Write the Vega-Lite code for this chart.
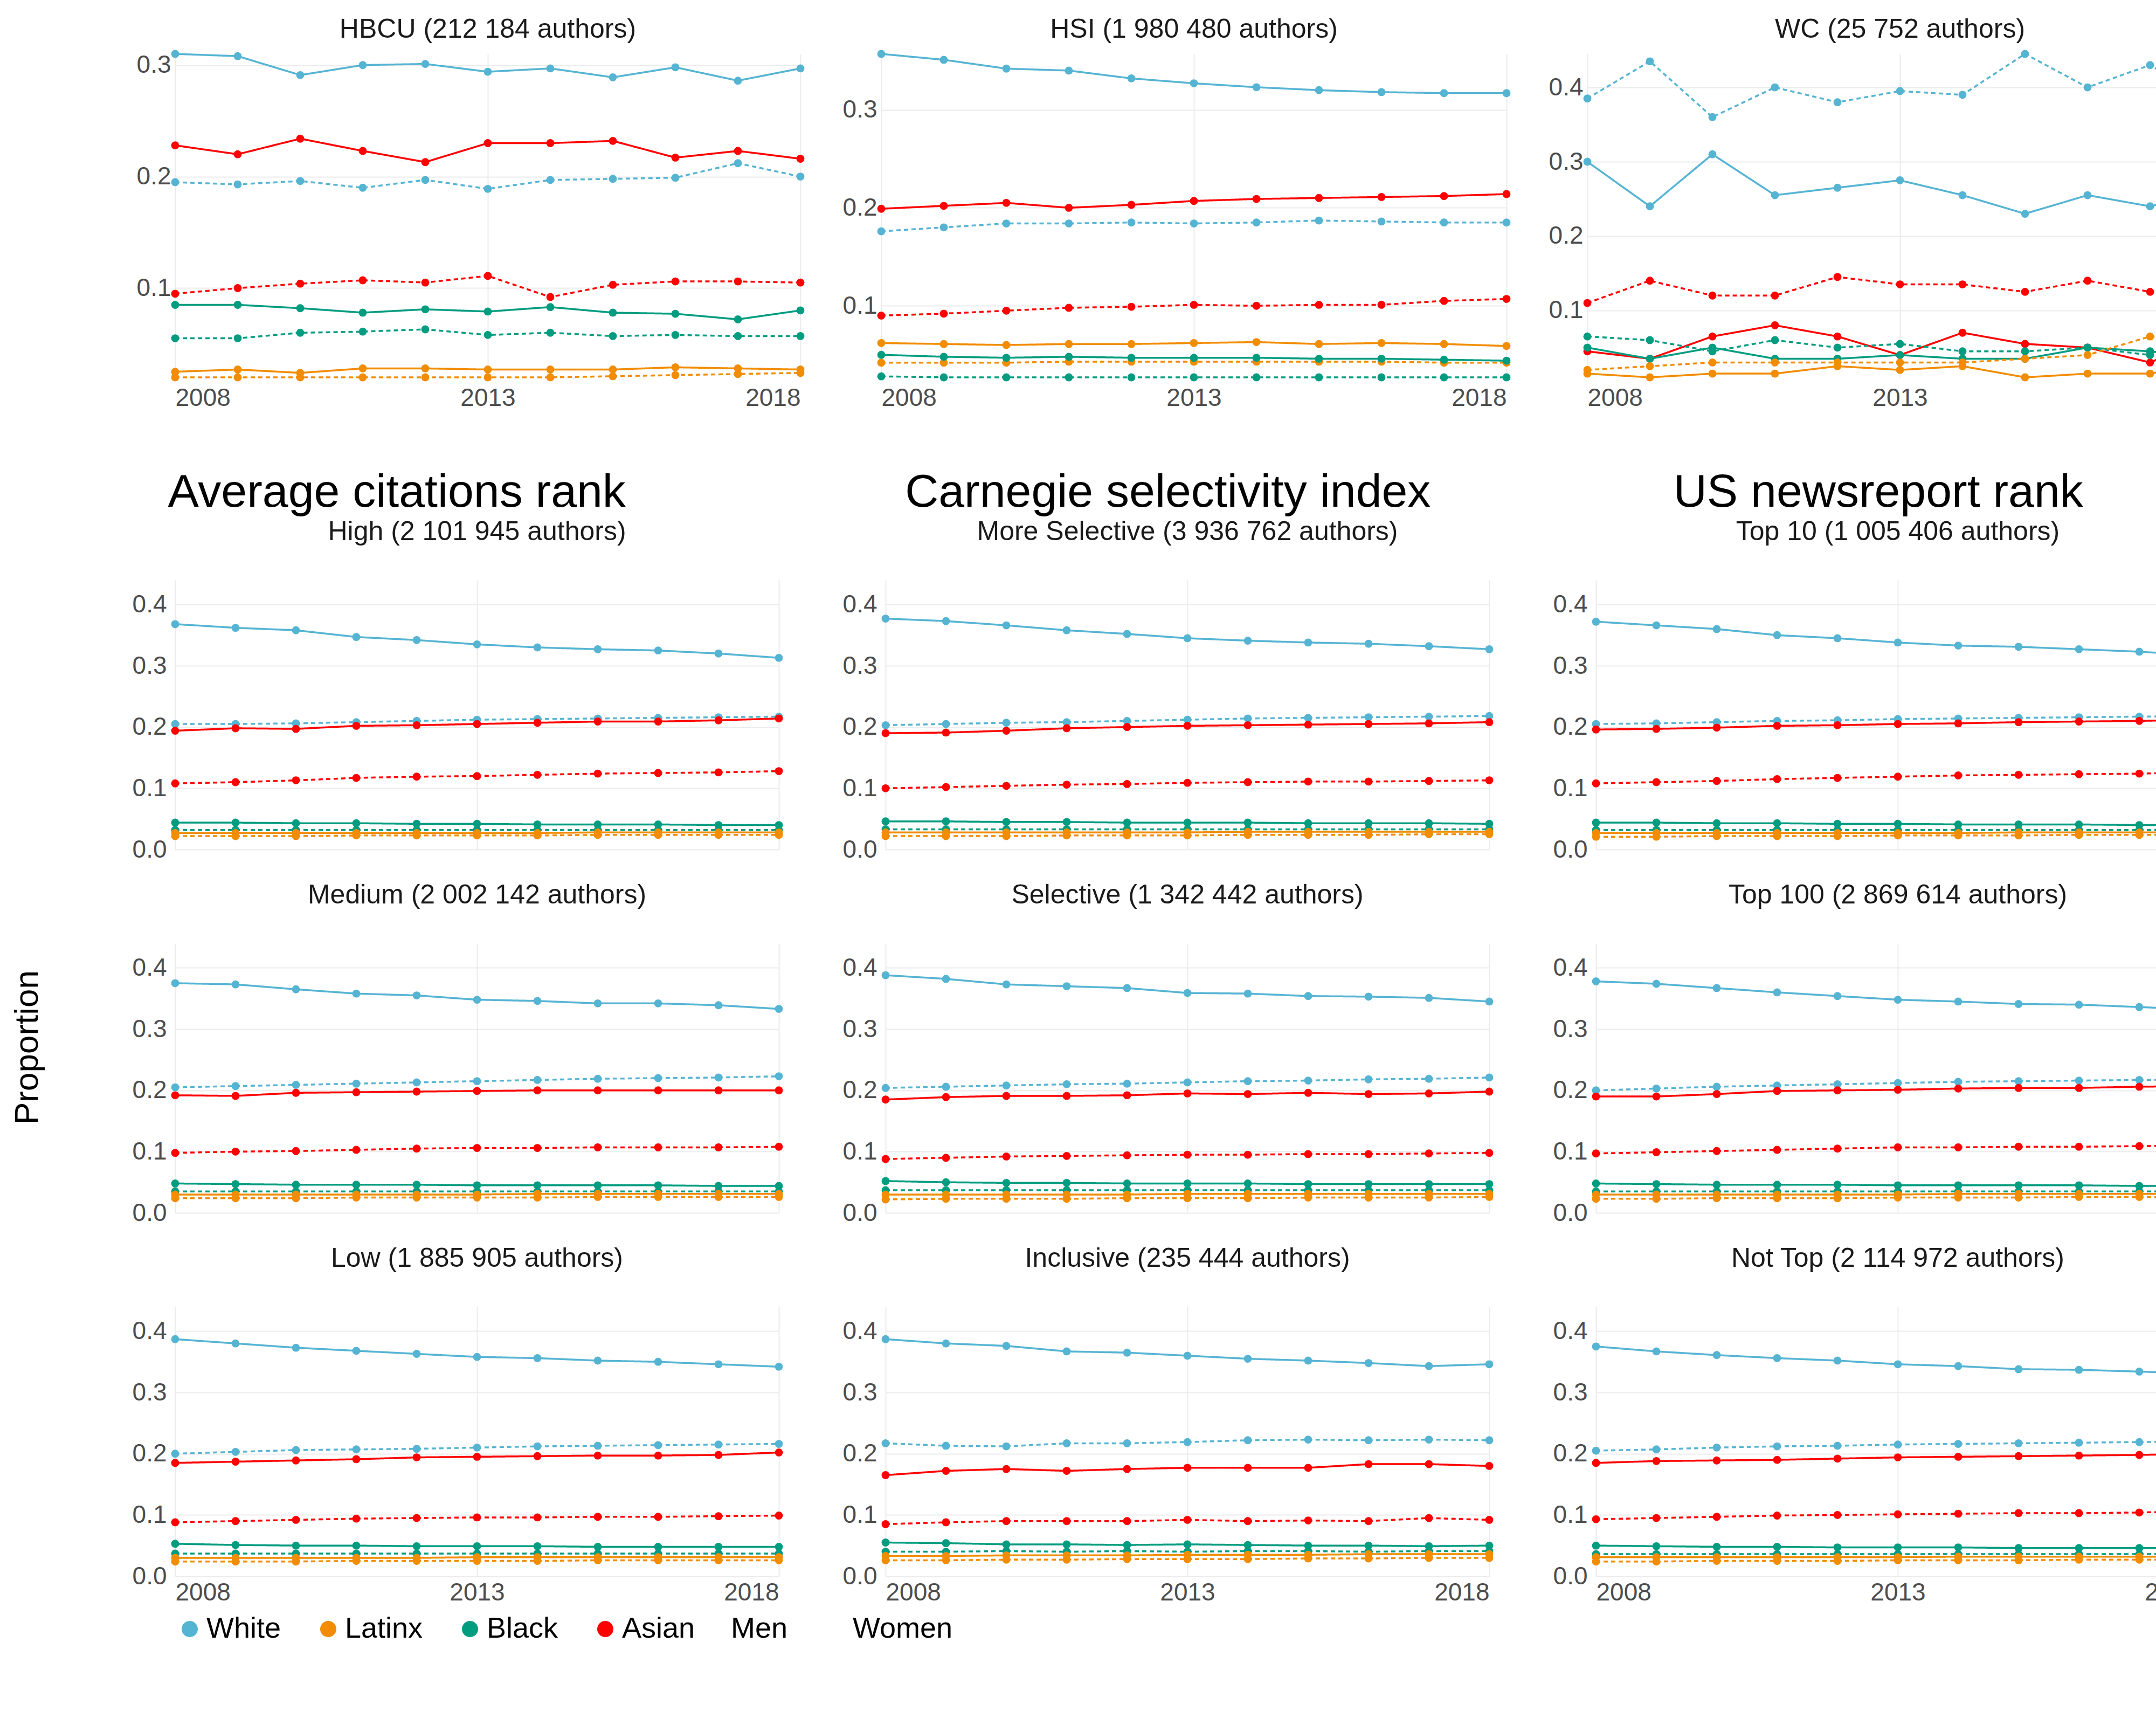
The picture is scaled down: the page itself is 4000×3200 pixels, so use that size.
{
  "$schema": "https://vega.github.io/schema/vega-lite/v6.json",
  "background": "white",
  "padding": {"left": 20, "top": 30, "right": 30, "bottom": 20},
  "config": {
    "font": "Liberation Sans",
    "view": {"stroke": null},
    "axis": {"labelFontSize": 46, "labelColor": "#4d4d4d", "gridColor": "#ebebeb", "gridWidth": 2, "domain": false, "ticks": false, "titleFontSize": 60, "titleFontWeight": "normal", "labelPadding": 8},
    "header": {"labelFontSize": 50, "labelColor": "#1a1a1a", "titleFontSize": 62, "titleFontWeight": "normal", "titleColor": "#000000"},
    "legend": {"orient": "bottom", "direction": "horizontal", "labelFontSize": 54, "symbolSize": 900, "symbolStrokeWidth": 5, "columnPadding": 60, "labelLimit": 400},
    "title": {"fontSize": 86, "fontWeight": "normal", "anchor": "middle"},
    "concat": {"spacing": 110}
  },
  "data": {"values": [
    {"s":"top","p":"HBCU (212 184 authors)","r":"White","g":"Men","v":[0.31,0.308,0.291,0.3,0.301,0.294,0.297,0.289,0.298,0.286,0.297]},
    {"s":"top","p":"HBCU (212 184 authors)","r":"White","g":"Women","v":[0.195,0.193,0.196,0.19,0.197,0.189,0.197,0.198,0.199,0.212,0.2]},
    {"s":"top","p":"HBCU (212 184 authors)","r":"Asian","g":"Men","v":[0.228,0.22,0.234,0.223,0.213,0.23,0.23,0.232,0.217,0.223,0.216]},
    {"s":"top","p":"HBCU (212 184 authors)","r":"Asian","g":"Women","v":[0.095,0.1,0.104,0.107,0.105,0.111,0.092,0.103,0.106,0.106,0.105]},
    {"s":"top","p":"HBCU (212 184 authors)","r":"Black","g":"Men","v":[0.085,0.085,0.082,0.078,0.081,0.079,0.083,0.078,0.077,0.072,0.08]},
    {"s":"top","p":"HBCU (212 184 authors)","r":"Black","g":"Women","v":[0.055,0.055,0.06,0.061,0.063,0.058,0.06,0.057,0.058,0.057,0.057]},
    {"s":"top","p":"HBCU (212 184 authors)","r":"Latinx","g":"Men","v":[0.025,0.027,0.024,0.028,0.028,0.027,0.027,0.027,0.029,0.028,0.027]},
    {"s":"top","p":"HBCU (212 184 authors)","r":"Latinx","g":"Women","v":[0.02,0.02,0.02,0.02,0.02,0.02,0.02,0.021,0.022,0.023,0.024]},
    {"s":"top","p":"HSI (1 980 480 authors)","r":"White","g":"Men","v":[0.357,0.351,0.342,0.34,0.332,0.327,0.323,0.32,0.318,0.317,0.317]},
    {"s":"top","p":"HSI (1 980 480 authors)","r":"White","g":"Women","v":[0.176,0.18,0.184,0.184,0.185,0.184,0.185,0.187,0.186,0.185,0.185]},
    {"s":"top","p":"HSI (1 980 480 authors)","r":"Asian","g":"Men","v":[0.199,0.202,0.205,0.2,0.203,0.207,0.209,0.21,0.211,0.212,0.214]},
    {"s":"top","p":"HSI (1 980 480 authors)","r":"Asian","g":"Women","v":[0.09,0.092,0.095,0.098,0.099,0.101,0.1,0.101,0.101,0.105,0.107]},
    {"s":"top","p":"HSI (1 980 480 authors)","r":"Latinx","g":"Men","v":[0.062,0.061,0.06,0.061,0.061,0.062,0.063,0.061,0.062,0.061,0.059]},
    {"s":"top","p":"HSI (1 980 480 authors)","r":"Latinx","g":"Women","v":[0.042,0.042,0.042,0.043,0.043,0.043,0.043,0.043,0.043,0.042,0.042]},
    {"s":"top","p":"HSI (1 980 480 authors)","r":"Black","g":"Men","v":[0.05,0.048,0.047,0.048,0.047,0.047,0.047,0.046,0.046,0.045,0.044]},
    {"s":"top","p":"HSI (1 980 480 authors)","r":"Black","g":"Women","v":[0.028,0.027,0.027,0.027,0.027,0.027,0.027,0.027,0.027,0.027,0.027]},
    {"s":"top","p":"WC (25 752 authors)","r":"White","g":"Women","v":[0.385,0.435,0.36,0.4,0.38,0.395,0.39,0.445,0.4,0.43,0.38]},
    {"s":"top","p":"WC (25 752 authors)","r":"White","g":"Men","v":[0.3,0.24,0.31,0.255,0.265,0.275,0.255,0.23,0.255,0.24,0.26]},
    {"s":"top","p":"WC (25 752 authors)","r":"Asian","g":"Women","v":[0.11,0.14,0.12,0.12,0.145,0.135,0.135,0.125,0.14,0.125,0.125]},
    {"s":"top","p":"WC (25 752 authors)","r":"Asian","g":"Men","v":[0.045,0.035,0.065,0.08,0.065,0.04,0.07,0.055,0.05,0.03,0.065]},
    {"s":"top","p":"WC (25 752 authors)","r":"Black","g":"Women","v":[0.065,0.06,0.045,0.06,0.05,0.055,0.045,0.045,0.05,0.04,0.045]},
    {"s":"top","p":"WC (25 752 authors)","r":"Black","g":"Men","v":[0.05,0.035,0.05,0.035,0.035,0.04,0.035,0.035,0.05,0.045,0.035]},
    {"s":"top","p":"WC (25 752 authors)","r":"Latinx","g":"Men","v":[0.015,0.01,0.015,0.015,0.025,0.02,0.025,0.01,0.015,0.015,0.03]},
    {"s":"top","p":"WC (25 752 authors)","r":"Latinx","g":"Women","v":[0.02,0.025,0.03,0.03,0.03,0.03,0.03,0.035,0.04,0.065,0.05]},

    {"s":"cit","p":"High (2 101 945 authors)","r":"White","g":"Men","v":[0.368,0.362,0.358,0.347,0.342,0.335,0.33,0.327,0.325,0.32,0.313]},
    {"s":"cit","p":"High (2 101 945 authors)","r":"White","g":"Women","v":[0.205,0.205,0.206,0.208,0.21,0.212,0.213,0.214,0.215,0.216,0.217]},
    {"s":"cit","p":"High (2 101 945 authors)","r":"Asian","g":"Men","v":[0.194,0.198,0.197,0.202,0.203,0.205,0.207,0.209,0.209,0.211,0.214]},
    {"s":"cit","p":"High (2 101 945 authors)","r":"Asian","g":"Women","v":[0.108,0.11,0.113,0.117,0.119,0.12,0.122,0.124,0.125,0.126,0.128]},
    {"s":"cit","p":"High (2 101 945 authors)","r":"Black","g":"Men","v":[0.044,0.044,0.043,0.043,0.042,0.042,0.041,0.041,0.041,0.04,0.04]},
    {"s":"cit","p":"High (2 101 945 authors)","r":"Black","g":"Women","v":[0.032,0.032,0.032,0.032,0.032,0.032,0.032,0.032,0.032,0.032,0.032]},
    {"s":"cit","p":"High (2 101 945 authors)","r":"Latinx","g":"Men","v":[0.027,0.027,0.027,0.027,0.027,0.027,0.027,0.028,0.028,0.028,0.028]},
    {"s":"cit","p":"High (2 101 945 authors)","r":"Latinx","g":"Women","v":[0.022,0.022,0.022,0.023,0.023,0.023,0.023,0.024,0.024,0.024,0.024]},
    {"s":"cit","p":"Medium (2 002 142 authors)","r":"White","g":"Men","v":[0.375,0.373,0.365,0.358,0.355,0.348,0.346,0.342,0.342,0.339,0.333]},
    {"s":"cit","p":"Medium (2 002 142 authors)","r":"White","g":"Women","v":[0.205,0.207,0.209,0.211,0.213,0.215,0.217,0.219,0.22,0.221,0.223]},
    {"s":"cit","p":"Medium (2 002 142 authors)","r":"Asian","g":"Men","v":[0.192,0.191,0.196,0.197,0.198,0.199,0.2,0.2,0.2,0.2,0.2]},
    {"s":"cit","p":"Medium (2 002 142 authors)","r":"Asian","g":"Women","v":[0.098,0.1,0.101,0.103,0.105,0.106,0.106,0.107,0.107,0.107,0.108]},
    {"s":"cit","p":"Medium (2 002 142 authors)","r":"Black","g":"Men","v":[0.048,0.047,0.046,0.046,0.046,0.045,0.045,0.045,0.045,0.044,0.044]},
    {"s":"cit","p":"Medium (2 002 142 authors)","r":"Black","g":"Women","v":[0.035,0.035,0.035,0.035,0.035,0.035,0.035,0.035,0.035,0.035,0.035]},
    {"s":"cit","p":"Medium (2 002 142 authors)","r":"Latinx","g":"Men","v":[0.03,0.03,0.03,0.03,0.03,0.03,0.031,0.031,0.031,0.031,0.031]},
    {"s":"cit","p":"Medium (2 002 142 authors)","r":"Latinx","g":"Women","v":[0.024,0.024,0.024,0.025,0.025,0.025,0.025,0.026,0.026,0.026,0.026]},
    {"s":"cit","p":"Low (1 885 905 authors)","r":"White","g":"Men","v":[0.387,0.38,0.373,0.368,0.363,0.358,0.356,0.352,0.35,0.346,0.342]},
    {"s":"cit","p":"Low (1 885 905 authors)","r":"White","g":"Women","v":[0.2,0.203,0.206,0.207,0.208,0.21,0.212,0.213,0.214,0.215,0.216]},
    {"s":"cit","p":"Low (1 885 905 authors)","r":"Asian","g":"Men","v":[0.185,0.187,0.189,0.191,0.194,0.195,0.196,0.197,0.197,0.198,0.202]},
    {"s":"cit","p":"Low (1 885 905 authors)","r":"Asian","g":"Women","v":[0.088,0.09,0.092,0.094,0.095,0.096,0.096,0.097,0.097,0.098,0.099]},
    {"s":"cit","p":"Low (1 885 905 authors)","r":"Black","g":"Men","v":[0.053,0.051,0.05,0.05,0.049,0.049,0.049,0.048,0.048,0.048,0.048]},
    {"s":"cit","p":"Low (1 885 905 authors)","r":"Black","g":"Women","v":[0.037,0.037,0.037,0.037,0.037,0.037,0.037,0.037,0.037,0.037,0.037]},
    {"s":"cit","p":"Low (1 885 905 authors)","r":"Latinx","g":"Men","v":[0.03,0.03,0.03,0.03,0.03,0.031,0.031,0.031,0.031,0.031,0.031]},
    {"s":"cit","p":"Low (1 885 905 authors)","r":"Latinx","g":"Women","v":[0.024,0.024,0.024,0.025,0.025,0.025,0.025,0.026,0.026,0.026,0.026]},

    {"s":"car","p":"More Selective (3 936 762 authors)","r":"White","g":"Men","v":[0.377,0.373,0.366,0.358,0.352,0.345,0.341,0.338,0.336,0.332,0.327]},
    {"s":"car","p":"More Selective (3 936 762 authors)","r":"White","g":"Women","v":[0.203,0.205,0.207,0.208,0.21,0.212,0.214,0.215,0.216,0.217,0.218]},
    {"s":"car","p":"More Selective (3 936 762 authors)","r":"Asian","g":"Men","v":[0.19,0.191,0.194,0.198,0.2,0.202,0.203,0.204,0.205,0.206,0.208]},
    {"s":"car","p":"More Selective (3 936 762 authors)","r":"Asian","g":"Women","v":[0.1,0.102,0.104,0.106,0.107,0.109,0.11,0.111,0.111,0.112,0.113]},
    {"s":"car","p":"More Selective (3 936 762 authors)","r":"Black","g":"Men","v":[0.046,0.046,0.045,0.045,0.044,0.044,0.044,0.043,0.043,0.043,0.042]},
    {"s":"car","p":"More Selective (3 936 762 authors)","r":"Black","g":"Women","v":[0.033,0.033,0.033,0.033,0.033,0.033,0.033,0.033,0.033,0.033,0.033]},
    {"s":"car","p":"More Selective (3 936 762 authors)","r":"Latinx","g":"Men","v":[0.028,0.028,0.028,0.028,0.028,0.028,0.029,0.029,0.029,0.029,0.029]},
    {"s":"car","p":"More Selective (3 936 762 authors)","r":"Latinx","g":"Women","v":[0.022,0.022,0.022,0.023,0.023,0.023,0.024,0.024,0.024,0.025,0.025]},
    {"s":"car","p":"Selective (1 342 442 authors)","r":"White","g":"Men","v":[0.388,0.382,0.373,0.37,0.367,0.359,0.358,0.354,0.353,0.351,0.345]},
    {"s":"car","p":"Selective (1 342 442 authors)","r":"White","g":"Women","v":[0.204,0.206,0.208,0.21,0.211,0.213,0.215,0.216,0.218,0.219,0.221]},
    {"s":"car","p":"Selective (1 342 442 authors)","r":"Asian","g":"Men","v":[0.185,0.189,0.191,0.191,0.192,0.195,0.194,0.196,0.194,0.195,0.198]},
    {"s":"car","p":"Selective (1 342 442 authors)","r":"Asian","g":"Women","v":[0.088,0.09,0.092,0.093,0.094,0.095,0.095,0.096,0.096,0.097,0.098]},
    {"s":"car","p":"Selective (1 342 442 authors)","r":"Black","g":"Men","v":[0.052,0.05,0.049,0.049,0.048,0.048,0.048,0.047,0.047,0.047,0.047]},
    {"s":"car","p":"Selective (1 342 442 authors)","r":"Black","g":"Women","v":[0.037,0.037,0.037,0.037,0.037,0.037,0.037,0.037,0.037,0.037,0.037]},
    {"s":"car","p":"Selective (1 342 442 authors)","r":"Latinx","g":"Men","v":[0.03,0.03,0.03,0.03,0.03,0.031,0.031,0.031,0.031,0.031,0.031]},
    {"s":"car","p":"Selective (1 342 442 authors)","r":"Latinx","g":"Women","v":[0.022,0.023,0.023,0.023,0.024,0.024,0.024,0.025,0.025,0.025,0.026]},
    {"s":"car","p":"Inclusive (235 444 authors)","r":"White","g":"Men","v":[0.387,0.38,0.376,0.367,0.365,0.36,0.355,0.352,0.348,0.343,0.346]},
    {"s":"car","p":"Inclusive (235 444 authors)","r":"White","g":"Women","v":[0.217,0.213,0.212,0.217,0.217,0.219,0.222,0.223,0.222,0.223,0.222]},
    {"s":"car","p":"Inclusive (235 444 authors)","r":"Asian","g":"Men","v":[0.165,0.172,0.175,0.172,0.175,0.177,0.177,0.177,0.183,0.183,0.18]},
    {"s":"car","p":"Inclusive (235 444 authors)","r":"Asian","g":"Women","v":[0.085,0.088,0.09,0.09,0.09,0.092,0.09,0.091,0.09,0.095,0.092]},
    {"s":"car","p":"Inclusive (235 444 authors)","r":"Black","g":"Men","v":[0.055,0.054,0.052,0.052,0.051,0.052,0.051,0.05,0.05,0.049,0.05]},
    {"s":"car","p":"Inclusive (235 444 authors)","r":"Black","g":"Women","v":[0.04,0.04,0.041,0.04,0.041,0.04,0.041,0.041,0.04,0.041,0.041]},
    {"s":"car","p":"Inclusive (235 444 authors)","r":"Latinx","g":"Men","v":[0.033,0.033,0.034,0.034,0.034,0.035,0.035,0.035,0.036,0.036,0.036]},
    {"s":"car","p":"Inclusive (235 444 authors)","r":"Latinx","g":"Women","v":[0.026,0.026,0.027,0.027,0.028,0.028,0.028,0.029,0.029,0.03,0.03]},

    {"s":"us","p":"Top 10 (1 005 406 authors)","r":"White","g":"Men","v":[0.372,0.366,0.36,0.35,0.345,0.338,0.333,0.331,0.327,0.323,0.317]},
    {"s":"us","p":"Top 10 (1 005 406 authors)","r":"White","g":"Women","v":[0.205,0.206,0.208,0.21,0.211,0.213,0.214,0.215,0.216,0.217,0.218]},
    {"s":"us","p":"Top 10 (1 005 406 authors)","r":"Asian","g":"Men","v":[0.196,0.197,0.199,0.202,0.203,0.205,0.206,0.208,0.209,0.21,0.212]},
    {"s":"us","p":"Top 10 (1 005 406 authors)","r":"Asian","g":"Women","v":[0.108,0.11,0.112,0.115,0.117,0.119,0.121,0.122,0.123,0.124,0.126]},
    {"s":"us","p":"Top 10 (1 005 406 authors)","r":"Black","g":"Men","v":[0.044,0.044,0.043,0.043,0.042,0.042,0.041,0.041,0.041,0.04,0.04]},
    {"s":"us","p":"Top 10 (1 005 406 authors)","r":"Black","g":"Women","v":[0.032,0.032,0.032,0.032,0.032,0.032,0.032,0.032,0.032,0.032,0.032]},
    {"s":"us","p":"Top 10 (1 005 406 authors)","r":"Latinx","g":"Men","v":[0.027,0.027,0.027,0.027,0.027,0.027,0.027,0.028,0.028,0.028,0.028]},
    {"s":"us","p":"Top 10 (1 005 406 authors)","r":"Latinx","g":"Women","v":[0.021,0.021,0.022,0.022,0.022,0.023,0.023,0.023,0.024,0.024,0.024]},
    {"s":"us","p":"Top 100 (2 869 614 authors)","r":"White","g":"Men","v":[0.378,0.374,0.367,0.36,0.354,0.348,0.345,0.341,0.34,0.336,0.332]},
    {"s":"us","p":"Top 100 (2 869 614 authors)","r":"White","g":"Women","v":[0.2,0.203,0.206,0.208,0.21,0.212,0.214,0.215,0.216,0.217,0.218]},
    {"s":"us","p":"Top 100 (2 869 614 authors)","r":"Asian","g":"Men","v":[0.19,0.19,0.194,0.199,0.2,0.201,0.203,0.204,0.204,0.206,0.207]},
    {"s":"us","p":"Top 100 (2 869 614 authors)","r":"Asian","g":"Women","v":[0.097,0.099,0.101,0.103,0.105,0.107,0.107,0.108,0.108,0.109,0.11]},
    {"s":"us","p":"Top 100 (2 869 614 authors)","r":"Black","g":"Men","v":[0.048,0.047,0.046,0.046,0.046,0.045,0.045,0.045,0.045,0.044,0.044]},
    {"s":"us","p":"Top 100 (2 869 614 authors)","r":"Black","g":"Women","v":[0.035,0.035,0.035,0.035,0.035,0.035,0.035,0.035,0.035,0.035,0.035]},
    {"s":"us","p":"Top 100 (2 869 614 authors)","r":"Latinx","g":"Men","v":[0.03,0.03,0.03,0.03,0.03,0.03,0.031,0.031,0.031,0.031,0.031]},
    {"s":"us","p":"Top 100 (2 869 614 authors)","r":"Latinx","g":"Women","v":[0.023,0.023,0.024,0.024,0.024,0.025,0.025,0.025,0.026,0.026,0.026]},
    {"s":"us","p":"Not Top (2 114 972 authors)","r":"White","g":"Men","v":[0.375,0.367,0.361,0.356,0.352,0.346,0.343,0.338,0.337,0.334,0.331]},
    {"s":"us","p":"Not Top (2 114 972 authors)","r":"White","g":"Women","v":[0.205,0.207,0.21,0.212,0.213,0.215,0.216,0.217,0.218,0.219,0.22]},
    {"s":"us","p":"Not Top (2 114 972 authors)","r":"Asian","g":"Men","v":[0.185,0.188,0.189,0.19,0.192,0.194,0.195,0.196,0.197,0.198,0.2]},
    {"s":"us","p":"Not Top (2 114 972 authors)","r":"Asian","g":"Women","v":[0.093,0.095,0.097,0.099,0.1,0.101,0.102,0.103,0.103,0.104,0.106]},
    {"s":"us","p":"Not Top (2 114 972 authors)","r":"Black","g":"Men","v":[0.05,0.049,0.048,0.048,0.047,0.047,0.047,0.046,0.046,0.046,0.046]},
    {"s":"us","p":"Not Top (2 114 972 authors)","r":"Black","g":"Women","v":[0.036,0.036,0.036,0.036,0.036,0.036,0.036,0.036,0.036,0.036,0.036]},
    {"s":"us","p":"Not Top (2 114 972 authors)","r":"Latinx","g":"Men","v":[0.031,0.031,0.031,0.031,0.031,0.031,0.032,0.032,0.032,0.032,0.032]},
    {"s":"us","p":"Not Top (2 114 972 authors)","r":"Latinx","g":"Women","v":[0.024,0.024,0.025,0.025,0.025,0.026,0.026,0.026,0.027,0.027,0.027]}
  ]},
  "transform": [
    {"calculate": "[2008,2009,2010,2011,2012,2013,2014,2015,2016,2017,2018]", "as": "yr"},
    {"flatten": ["yr", "v"]}
  ],
  "vconcat": [
    {
      "transform": [{"filter": "datum.s == 'top'"}],
      "facet": {"column": {"field": "p", "sort": ["HBCU (212 184 authors)", "HSI (1 980 480 authors)", "WC (25 752 authors)"], "title": null, "header": {"labelPadding": 12}}},
      "spacing": 70,
      "resolve": {"scale": {"y": "independent"}},
      "spec": {
        "width": 1160, "height": 600,
        "encoding": {
          "x": {"field": "yr", "type": "quantitative", "title": null, "scale": {"domain": [2008, 2018], "nice": false, "zero": false}, "axis": {"values": [2008, 2013, 2018], "format": "d"}},
          "y": {"field": "v", "type": "quantitative", "title": null, "scale": {"zero": false, "nice": false}, "axis": {"format": ".1f", "tickMinStep": 0.1}},
          "color": {"field": "r", "type": "nominal", "title": null, "legend": {"symbolType": "circle", "symbolStrokeWidth": 0}, "scale": {"domain": ["White", "Latinx", "Black", "Asian"], "range": ["#56b4d3", "#f28c00", "#009c80", "#ff0000"]}},
          "strokeDash": {"field": "g", "type": "nominal", "title": null, "legend": {"symbolType": "stroke", "symbolStrokeColor": "black", "symbolSize": 1400}, "scale": {"domain": ["Men", "Women"], "range": [[1, 0], [8, 6]]}}
        },
        "layer": [
          {"mark": {"type": "line", "strokeWidth": 3.5}},
          {"mark": {"type": "point", "filled": true, "size": 220, "opacity": 1}}
        ]
      }
    },
    {
      "hconcat": [
        {
          "title": "Average citations rank",
          "transform": [{"filter": "datum.s == 'cit'"}],
          "facet": {"row": {"field": "p", "sort": ["High (2 101 945 authors)", "Medium (2 002 142 authors)", "Low (1 885 905 authors)"], "title": "Proportion", "header": {"labelOrient": "top", "labelAngle": 0, "labelAnchor": "middle", "labelPadding": 14, "titleOrient": "left", "titleAngle": -90, "titlePadding": 90}}},
          "spacing": 60,
          "spec": {
            "width": 1120, "height": 500,
            "encoding": {
              "x": {"field": "yr", "type": "quantitative", "title": null, "scale": {"domain": [2008, 2018], "nice": false, "zero": false}, "axis": {"values": [2008, 2013, 2018], "format": "d"}},
              "y": {"field": "v", "type": "quantitative", "title": null, "scale": {"domain": [0, 0.44], "nice": false}, "axis": {"values": [0, 0.1, 0.2, 0.3, 0.4], "format": ".1f"}},
              "color": {"field": "r", "type": "nominal", "title": null, "scale": {"domain": ["White", "Latinx", "Black", "Asian"], "range": ["#56b4d3", "#f28c00", "#009c80", "#ff0000"]}},
              "strokeDash": {"field": "g", "type": "nominal", "title": null, "scale": {"domain": ["Men", "Women"], "range": [[1, 0], [8, 6]]}}
            },
            "layer": [
              {"mark": {"type": "line", "strokeWidth": 3.5}},
              {"mark": {"type": "point", "filled": true, "size": 220, "opacity": 1}}
            ]
          }
        },
        {
          "title": "Carnegie selectivity index",
          "transform": [{"filter": "datum.s == 'car'"}],
          "facet": {"row": {"field": "p", "sort": ["More Selective (3 936 762 authors)", "Selective (1 342 442 authors)", "Inclusive (235 444 authors)"], "title": null, "header": {"labelOrient": "top", "labelAngle": 0, "labelAnchor": "middle", "labelPadding": 14}}},
          "spacing": 60,
          "spec": {
            "width": 1120, "height": 500,
            "encoding": {
              "x": {"field": "yr", "type": "quantitative", "title": null, "scale": {"domain": [2008, 2018], "nice": false, "zero": false}, "axis": {"values": [2008, 2013, 2018], "format": "d"}},
              "y": {"field": "v", "type": "quantitative", "title": null, "scale": {"domain": [0, 0.44], "nice": false}, "axis": {"values": [0, 0.1, 0.2, 0.3, 0.4], "format": ".1f"}},
              "color": {"field": "r", "type": "nominal", "title": null, "scale": {"domain": ["White", "Latinx", "Black", "Asian"], "range": ["#56b4d3", "#f28c00", "#009c80", "#ff0000"]}},
              "strokeDash": {"field": "g", "type": "nominal", "title": null, "scale": {"domain": ["Men", "Women"], "range": [[1, 0], [8, 6]]}}
            },
            "layer": [
              {"mark": {"type": "line", "strokeWidth": 3.5}},
              {"mark": {"type": "point", "filled": true, "size": 220, "opacity": 1}}
            ]
          }
        },
        {
          "title": "US newsreport rank",
          "transform": [{"filter": "datum.s == 'us'"}],
          "facet": {"row": {"field": "p", "sort": ["Top 10 (1 005 406 authors)", "Top 100 (2 869 614 authors)", "Not Top (2 114 972 authors)"], "title": null, "header": {"labelOrient": "top", "labelAngle": 0, "labelAnchor": "middle", "labelPadding": 14}}},
          "spacing": 60,
          "spec": {
            "width": 1120, "height": 500,
            "encoding": {
              "x": {"field": "yr", "type": "quantitative", "title": null, "scale": {"domain": [2008, 2018], "nice": false, "zero": false}, "axis": {"values": [2008, 2013, 2018], "format": "d"}},
              "y": {"field": "v", "type": "quantitative", "title": null, "scale": {"domain": [0, 0.44], "nice": false}, "axis": {"values": [0, 0.1, 0.2, 0.3, 0.4], "format": ".1f"}},
              "color": {"field": "r", "type": "nominal", "title": null, "scale": {"domain": ["White", "Latinx", "Black", "Asian"], "range": ["#56b4d3", "#f28c00", "#009c80", "#ff0000"]}},
              "strokeDash": {"field": "g", "type": "nominal", "title": null, "scale": {"domain": ["Men", "Women"], "range": [[1, 0], [8, 6]]}}
            },
            "layer": [
              {"mark": {"type": "line", "strokeWidth": 3.5}},
              {"mark": {"type": "point", "filled": true, "size": 220, "opacity": 1}}
            ]
          }
        }
      ]
    }
  ]
}
